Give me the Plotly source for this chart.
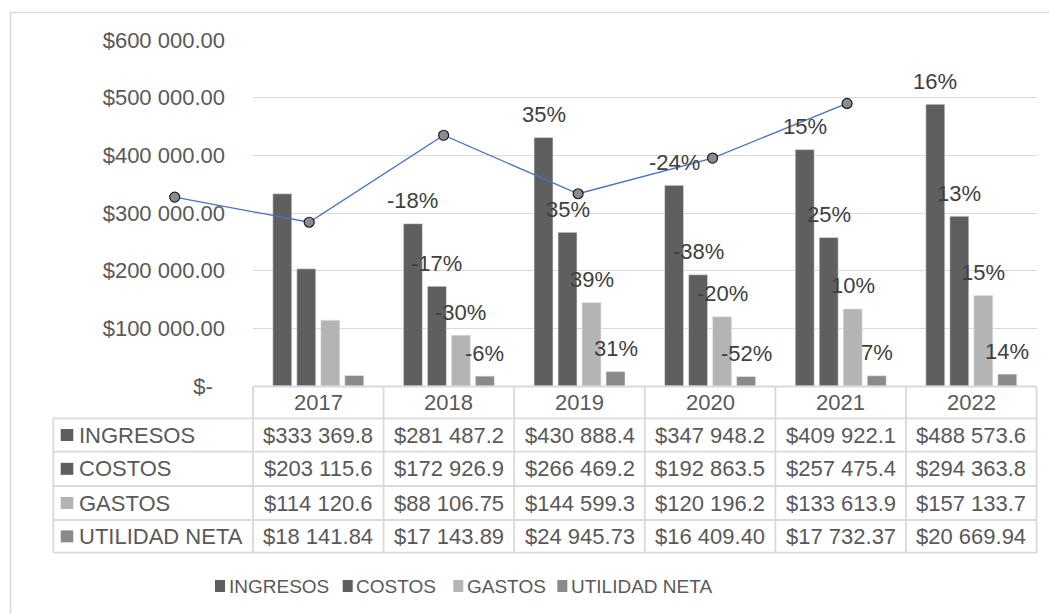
import plotly.graph_objects as go

# ---------------- data ----------------
anios = ["2017", "2018", "2019", "2020", "2021", "2022"]
series = ["INGRESOS", "COSTOS", "GASTOS", "UTILIDAD NETA"]
ingresos = [333369.8, 281487.2, 430888.4, 347948.2, 409922.1, 488573.6]
costos = [203115.6, 172926.9, 266469.2, 192863.5, 257475.4, 294363.8]
gastos = [114120.6, 88106.75, 144599.3, 120196.2, 133613.9, 157133.7]
utilidad = [18141.84, 17143.89, 24945.73, 16409.40, 17732.37, 20669.94]

ingresos_txt = ["$333 369.8", "$281 487.2", "$430 888.4", "$347 948.2", "$409 922.1", "$488 573.6"]
costos_txt = ["$203 115.6", "$172 926.9", "$266 469.2", "$192 863.5", "$257 475.4", "$294 363.8"]
gastos_txt = ["$114 120.6", "$88 106.75", "$144 599.3", "$120 196.2", "$133 613.9", "$157 133.7"]
utilidad_txt = ["$18 141.84", "$17 143.89", "$24 945.73", "$16 409.40", "$17 732.37", "$20 669.94"]

pct_ingresos = ["", "-18%", "35%", "-24%", "15%", "16%"]
pct_costos = ["", "-17%", "35%", "-38%", "25%", "13%"]
pct_gastos = ["", "-30%", "39%", "-20%", "10%", "15%"]
pct_utilidad = ["", "-6%", "31%", "-52%", "7%", "14%"]

linea = [327500, 284000, 434800, 333400, 395300, 490000]

y_tickvals = [0, 100000, 200000, 300000, 400000, 500000, 600000]
y_ticktext = ["$-\u00a0\u00a0", "$100 000.00", "$200 000.00", "$300 000.00",
              "$400 000.00", "$500 000.00", "$600 000.00"]

# ---------------- styles ----------------
W, H = 1049, 614
FONT = "Liberation Sans, Arial, sans-serif"
TXT = "#595959"
GRID = "#d9d9d9"
colores = ["#5f5f5f", "#5f5f5f", "#b4b4b4", "#8a8a8a"]
BARGAP = 0.265
BARGROUPGAP = 0.21


def X(px):
    return px / W


def Y(py):
    return 1 - py / H


plot_left, plot_right = 253.0, 1036.6
plot_top, plot_bottom = 40.0, 386.0
col_w = (plot_right - plot_left) / len(anios)
table_left = 53.3
row_lines = [386.5, 418.3, 451.7, 486.0, 520.0, 552.7]

valores = [ingresos, costos, gastos, utilidad]
textos = [ingresos_txt, costos_txt, gastos_txt, utilidad_txt]
pcts = [pct_ingresos, pct_costos, pct_gastos, pct_utilidad]

fig = go.Figure()
for name, vals, col in zip(series, valores, colores):
    fig.add_trace(go.Bar(
        x=anios, y=vals, name=name, marker=dict(color=col, line=dict(color="#e6e6e6", width=0.6)),
        showlegend=False, xaxis="x", yaxis="y", hoverinfo="x+y+name"))

# line on its own (shifted) category axis
line_x0, line_step = 174.7, 134.47
fig.add_trace(go.Scatter(
    x=anios, y=linea, mode="lines+markers", xaxis="x2", yaxis="y2", showlegend=False,
    line=dict(color="#4472c4", width=1.3),
    marker=dict(size=10, color="#8c8c8c", line=dict(color="#1a1a1a", width=1.2))))

annotations = []
shapes = []

# percentage labels above bars
slot = (1 - BARGAP) / len(series)
for j, (vals, pl) in enumerate(zip(valores, pcts)):
    off = (j - (len(series) - 1) / 2) * slot
    for i, (v, t) in enumerate(zip(vals, pl)):
        if not t:
            continue
        annotations.append(dict(
            x=i + off, y=v, xref="x", yref="y", text=t, showarrow=False,
            yshift=23, xanchor="center", yanchor="middle",
            font=dict(family=FONT, size=22, color="#404040")))

# ---- data table ----
line_style = dict(color=GRID, width=1.8)
shapes.append(dict(type="line", xref="paper", yref="paper",
                   x0=X(plot_left), x1=X(plot_right), y0=Y(row_lines[0]), y1=Y(row_lines[0]), line=line_style))
for ry in row_lines[1:]:
    shapes.append(dict(type="line", xref="paper", yref="paper",
                       x0=X(table_left), x1=X(plot_right), y0=Y(ry), y1=Y(ry), line=line_style))
shapes.append(dict(type="line", xref="paper", yref="paper",
                   x0=X(table_left), x1=X(table_left), y0=Y(row_lines[1]), y1=Y(row_lines[-1]), line=line_style))
for k in range(len(anios) + 1):
    cx = plot_left + k * col_w
    shapes.append(dict(type="line", xref="paper", yref="paper",
                       x0=X(cx), x1=X(cx), y0=Y(row_lines[0]), y1=Y(row_lines[-1]), line=line_style))

hy = (row_lines[0] + row_lines[1]) / 2
for i, a in enumerate(anios):
    annotations.append(dict(
        x=X(plot_left + (i + 0.5) * col_w), y=Y(hy), xref="paper", yref="paper", text=a,
        showarrow=False, xanchor="center", yanchor="middle",
        font=dict(family=FONT, size=22, color=TXT)))

for r, (name, col, txts) in enumerate(zip(series, colores, textos)):
    cy = (row_lines[r + 1] + row_lines[r + 2]) / 2
    shapes.append(dict(type="rect", xref="paper", yref="paper",
                       x0=X(60.7), x1=X(73.3), y0=Y(cy - 6), y1=Y(cy + 6),
                       fillcolor=col, line=dict(width=0)))
    annotations.append(dict(
        x=X(76.5), y=Y(cy), xref="paper", yref="paper", text=name, showarrow=False,
        xanchor="left", yanchor="middle", font=dict(family=FONT, size=22, color=TXT)))
    for i, t in enumerate(txts):
        annotations.append(dict(
            x=X(plot_left + (i + 0.5) * col_w), y=Y(cy), xref="paper", yref="paper", text=t,
            showarrow=False, xanchor="center", yanchor="middle",
            font=dict(family=FONT, size=22, color=TXT)))

# bottom legend
leg_y = 586.0
leg_sq_x = [215.0, 342.7, 453.3, 557.3]
for name, col, sx in zip(series, colores, leg_sq_x):
    shapes.append(dict(type="rect", xref="paper", yref="paper",
                       x0=X(sx), x1=X(sx + 10), y0=Y(leg_y - 6), y1=Y(leg_y + 6),
                       fillcolor=col, line=dict(width=0)))
    annotations.append(dict(
        x=X(sx + 11.5), y=Y(leg_y), xref="paper", yref="paper", text=name, showarrow=False,
        xanchor="left", yanchor="middle",
        font=dict(family=FONT, size=19, color=TXT)))

# outer chart border
shapes.append(dict(type="rect", xref="paper", yref="paper",
                   x0=X(10.5), x1=X(1070), y0=Y(12.5), y1=Y(640),
                   line=dict(color=GRID, width=1.5), fillcolor="rgba(0,0,0,0)"))

ydom = [Y(plot_bottom), Y(plot_top)]
fig.update_layout(
    width=W, height=H, autosize=False,
    margin=dict(l=0, r=0, t=0, b=0, pad=0, autoexpand=False),
    paper_bgcolor="white", plot_bgcolor="rgba(0,0,0,0)",
    barmode="group", bargap=BARGAP, bargroupgap=BARGROUPGAP,
    font=dict(family=FONT, size=22, color=TXT),
    xaxis=dict(domain=[X(plot_left), X(plot_right)], anchor="y", type="category",
               showticklabels=False, showgrid=False, zeroline=False, showline=False,
               range=[-0.5, len(anios) - 0.5], fixedrange=True, automargin=False),
    yaxis=dict(domain=ydom, anchor="x", range=[0, 600000], tickvals=y_tickvals,
               ticktext=y_ticktext, showgrid=True, gridcolor=GRID, gridwidth=1.3,
               zeroline=False, showline=False, ticks="", ticklabelstandoff=27,
               tickfont=dict(family=FONT, size=22, color=TXT), fixedrange=True,
               automargin=False),
    xaxis2=dict(domain=[X(line_x0 - line_step / 2), X(line_x0 + (len(anios) - 0.5) * line_step)],
                anchor="y2", type="category", range=[-0.5, len(anios) - 0.5], visible=False,
                automargin=False),
    yaxis2=dict(domain=ydom, anchor="x2", range=[0, 600000], visible=False, automargin=False),
    annotations=annotations, shapes=shapes, showlegend=False,
)

fig.write_html(
    "out.html",
    config={"displayModeBar": False},
    post_script=(
        "var gd=document.getElementById('{plot_id}');"
        "gd.style.position='fixed';gd.style.left='0px';gd.style.top='0px';"
        "document.body.style.margin='0';"
        "document.documentElement.style.overflow='hidden';"
        "document.body.style.overflow='hidden';"
    ),
)
